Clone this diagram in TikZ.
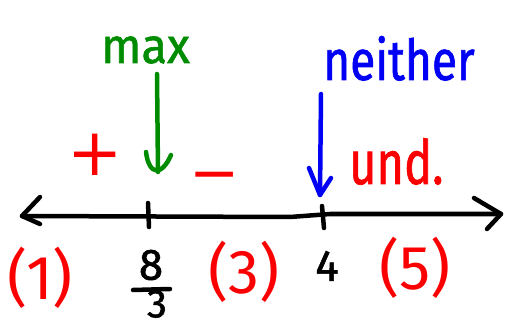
\documentclass[tikz,border=0pt]{standalone}
\usepackage{fontspec}
\setmainfont{Fira Sans}
\newfontfamily\handfont[FakeBold=1.3]{Fira Sans}
\newfontfamily\signfont{Fira Sans}
\newfontfamily\opfont{DejaVu Sans}
\definecolor{pgreen}{RGB}{0,140,0}
\definecolor{pblue}{RGB}{0,0,245}
\definecolor{pred}{RGB}{250,0,0}
\begin{document}
\begin{tikzpicture}[x=1pt,y=-1pt,
  stroke/.style={line width=4.5pt,line cap=round,line join=round},
  lbl/.style={inner sep=0pt},
  big/.style={font=\fontsize{47}{50}\handfont},
  paren/.style={font=\fontsize{62}{62}\signfont,text=pred},
  mid/.style={font=\fontsize{44}{46}\handfont}]
\useasboundingbox (0,0) rectangle (507,329);
% number line
\coordinate (L) at (22,216);
\coordinate (R) at (501,214);
\draw[stroke] (L) -- (290,217) -- (330,214) -- (R);
\draw[stroke] (40,197) -- (L) -- (40,224);
\draw[stroke] (474,198) -- (R) -- (487,229);
\coordinate (t1) at (148,203);
\coordinate (t2) at (322,206);
\draw[stroke] (t1) -- (149,227);
\draw[stroke] (t2) -- (324,228);
% green arrow and label
\node[lbl,big,text=pgreen,anchor=base west] (max) at (101,63) {\scalebox{1}[1.05]{max}};
\coordinate (gtop) at (157,74);
\coordinate (gtip) at (158,172);
\draw[stroke,pgreen] (gtop) -- (gtip);
\draw[stroke,pgreen] (146,152) .. controls (149,176) and (162,176) .. (171,155);
% blue arrow and label
\node[lbl,big,text=pblue,anchor=base west] (neither) at (323,80) {\scalebox{0.98}[1.2]{neither}};
\coordinate (btop) at (321,94);
\coordinate (btip) at (320,195);
\draw[stroke,pblue] (btop) -- (btip);
\draw[stroke,pblue] (309,168) -- (btip) -- (331,178);
% signs
\node[lbl,text=pred,font=\fontsize{66}{66}\opfont] (plus) at (95,155) {+};
\node[lbl,text=pred,font=\fontsize{60}{60}\opfont] (minus) at (215,183) {−};
\node[lbl,big,text=pred,anchor=base west] (und) at (349,184) {\scalebox{1}[1.3]{und.}};
% interval labels
\node[lbl,paren] (i1) at (40,278) {(1)};
\node[lbl,paren] (i3) at (244,272) {(3)};
\node[lbl,paren] (i5) at (415,268) {(5)};
% critical values
\node[lbl,mid] (eight) at (151,265) {8};
\coordinate (fb1) at (133,290);
\coordinate (fb2) at (170,289);
\draw[stroke] (fb1) -- (fb2);
\node[lbl,font=\fontsize{40}{42}\handfont] (three) at (157,304) {3};
\node[lbl,mid] (four) at (327,266) {4};
\end{tikzpicture}
\end{document}
